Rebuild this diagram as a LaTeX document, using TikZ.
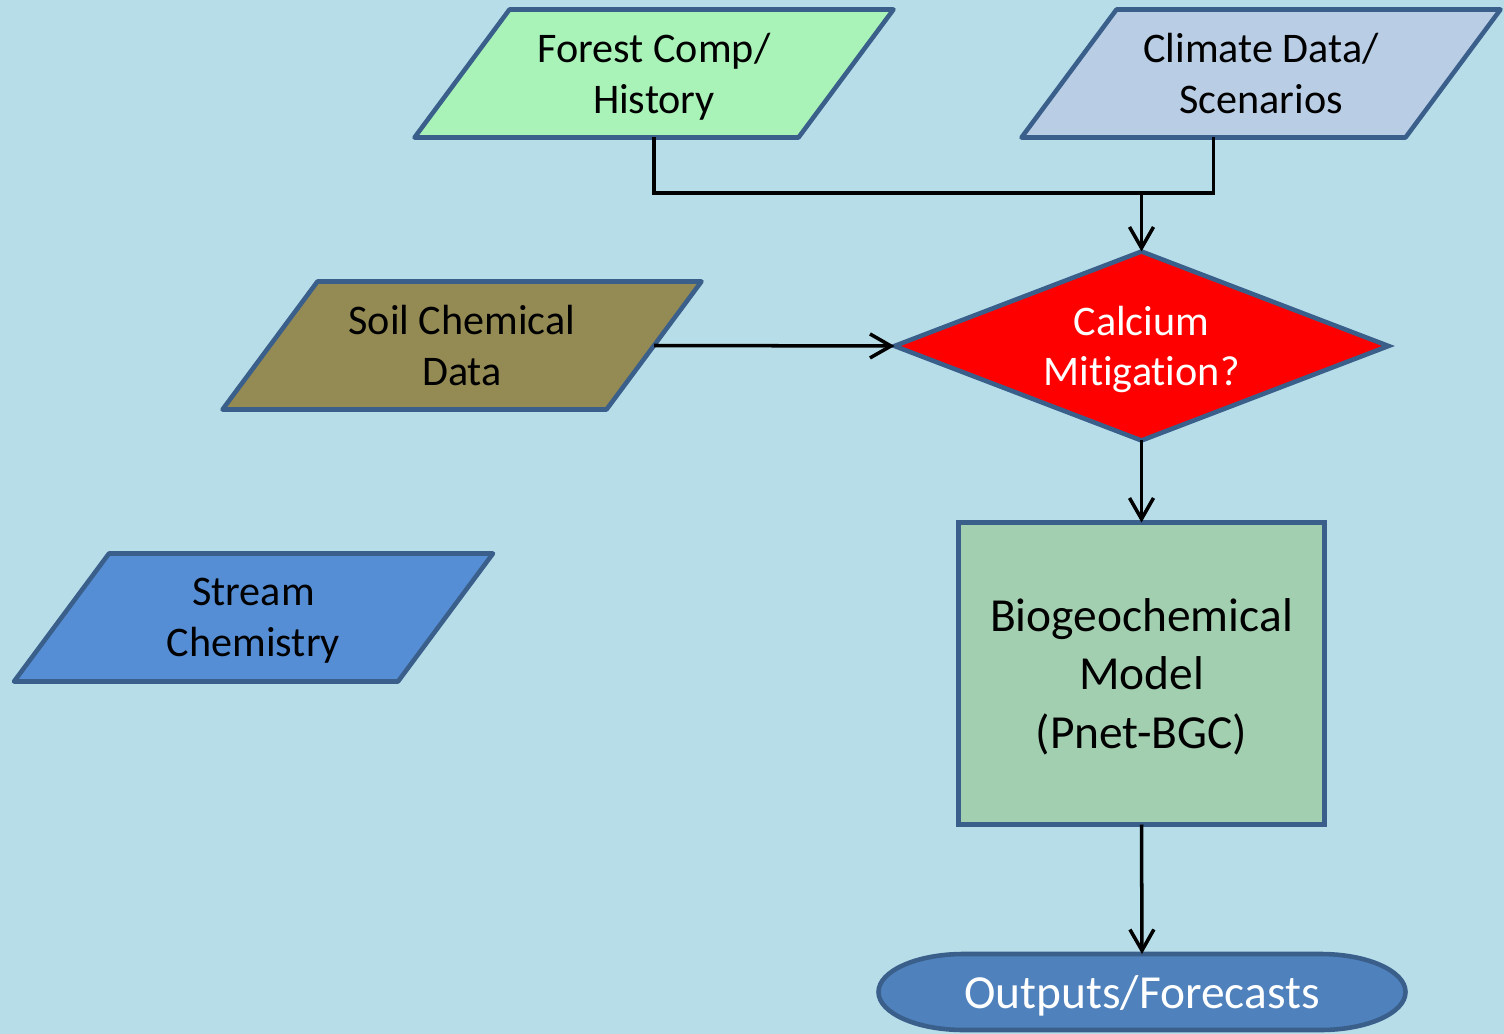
\documentclass[tikz,border=0pt]{standalone}
\usepackage{fontspec}
\setmainfont{Carlito}[Ligatures=NoCommon]
\usetikzlibrary{shapes.geometric, arrows.meta, positioning, calc, backgrounds}
\definecolor{bgblue}{HTML}{B7DEE8}
\definecolor{edgeblue}{HTML}{3A5F8B}
\definecolor{forestfill}{HTML}{A9F3B9}
\definecolor{climfill}{HTML}{B9CDE5}
\definecolor{soilfill}{HTML}{948A54}
\definecolor{streamfill}{HTML}{558ED5}
\definecolor{bgcfill}{HTML}{A3CFB1}
\definecolor{outfill}{HTML}{4F81BD}

\begin{document}
\begin{tikzpicture}[x=1cm, y=-1cm,
        inbox/.style={rectangle, minimum width=3.84cm, minimum height=1.28cm,
            inner sep=0pt, outer sep=0pt, text depth=0pt,
            align=center, font=\fontsize{12}{14.4}\selectfont},
        slant/.style={draw=edgeblue, line width=1.3pt, line join=round},
        arr/.style={-{Straight Barb[length=2.1mm,width=2.4mm]}, line width=1pt},
        link/.style={line width=1pt}]
        \useasboundingbox (0,0) rectangle (15.04,10.34);

        % Eingaben
        \node[inbox] (forest) at (6.54,0.735) {Forest Comp/\\History};
        \node[inbox] (clim) at (12.61,0.735) {Climate Data/\\Scenarios};
        \node[inbox] (soil) at (4.62,3.455) {Soil Chemical\\Data};
        \node[inbox] (stream) at (2.535,6.175) {Stream\\Chemistry};

        \begin{scope}[on background layer]
            \fill[bgblue] (0,0) rectangle (15.04,10.34);
            \foreach \n/\c in {forest/forestfill, clim/climfill, soil/soilfill, stream/streamfill}
                \draw[slant, fill=\c] ($(\n.south west)+(-0.475,0)$) -- ($(\n.south east)+(-0.475,0)$)
                    -- ($(\n.north east)+(0.475,0)$) -- ($(\n.north west)+(0.475,0)$) -- cycle;
        \end{scope}

        % Entscheidung
        \node[diamond, aspect=2.6, draw=edgeblue, line width=1.3pt, fill=red, text=white,
            minimum width=4.94cm, minimum height=1.89cm, inner sep=0pt, outer sep=0pt, text depth=0pt,
            align=center, font=\fontsize{12}{14.4}\selectfont] (calc) at (11.415,3.46) {Calcium\\Mitigation?};

        % Modell
        \node[rectangle, draw=edgeblue, line width=1.3pt, fill=bgcfill,
            minimum width=3.66cm, minimum height=3.02cm, inner sep=0pt, outer sep=0pt, text depth=0pt,
            align=center, font=\fontsize{13.5}{16.6}\selectfont] (bgc) at (11.415,6.735) {Biogeochemical\\Model\\(Pnet-BGC)};

        % Ausgabe
        \node[rectangle, minimum width=5.27cm, minimum height=0.76cm, inner sep=0pt, outer sep=0pt] (out) at (11.42,9.92) {};
        \draw[draw=edgeblue, line width=1.3pt, fill=outfill]
            ($(out.north west)+(0.85,0)$) -- ($(out.north east)+(-0.85,0)$)
            arc[start angle=-90, end angle=90, x radius=0.85, y radius=0.38]
            -- ($(out.south west)+(0.85,0)$)
            arc[start angle=90, end angle=270, x radius=0.85, y radius=0.38] -- cycle;
        \node[text=white, text depth=0pt, font=\fontsize{13.5}{16.6}\selectfont] at (out) {Outputs/Forecasts};

        % Verbindungen
        \coordinate (bus) at (6.54,1.93);
        \draw[link] (forest.south) -- (bus) -| ($(clim.south)+(-0.475,0)$);
        \draw[arr] (calc.north |- bus) -- (calc.north);
        \draw[arr] (soil.east) -- (calc.west);
        \draw[arr] (calc.south) -- (bgc.north);
        \draw[arr] (bgc.south) -- (out.north);
    \end{tikzpicture}
\end{document}
